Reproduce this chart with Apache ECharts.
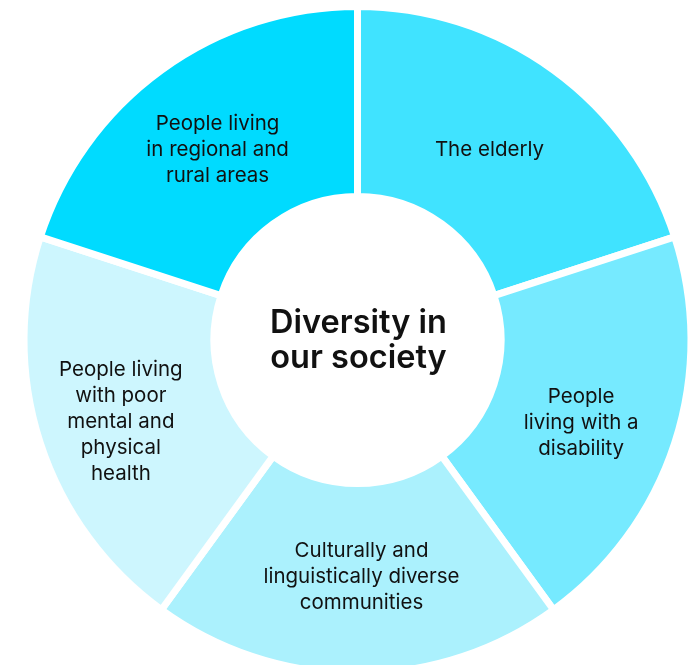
<!DOCTYPE html>
<html>
<head>
<meta charset="utf-8">
<style>
  html, body { margin: 0; padding: 0; background: #ffffff; }
  #chart { width: 698px; height: 665px; }
</style>
<script src="https://cdn.jsdelivr.net/npm/echarts@6/dist/echarts.min.js"></script>
</head>
<body>
<div id="chart"></div>
<script>
// Groups shown around the ring, clockwise from the top
const categories = [
  'The elderly',
  'People\nliving with a\ndisability',
  'Culturally and\nlinguistically diverse\ncommunities',
  'People living\nwith poor\nmental and\nphysical\nhealth',
  'People living\nin regional and\nrural areas'
];
// Every group takes an equal share of the ring
const shares = [1, 1, 1, 1, 1];
const colors = ['#40e3ff', '#76eaff', '#abf1fd', '#cdf6fe', '#00dbff'];
// Small nudges of each label from the segment's centroid
const labelOffsets = [[-10, 5], [-6, 8], [4, -5], [-7, 7], [2, 5]];
const centerTitle = 'Diversity in\nour society';

const chart = echarts.init(document.getElementById('chart'), null, { renderer: 'canvas' });

const fontFamily = 'Inter, "Noto Sans", sans-serif';

chart.setOption({
  animation: false,
  series: [{
    type: 'pie',
    center: [357.5, 340],
    radius: [143.5, 333.5],
    startAngle: 90,
    clockwise: true,
    silent: true,
    itemStyle: { borderColor: '#ffffff', borderWidth: 7 },
    label: {
      show: true,
      position: 'inside',
      color: '#111111',
      fontFamily: fontFamily,
      fontSize: 20.5,
      lineHeight: 26,
      align: 'center',
      formatter: p => p.name
    },
    labelLine: { show: false },
    emphasis: { disabled: true },
    data: categories.map((name, i) => ({
      name: name,
      value: shares[i],
      itemStyle: { color: colors[i] },
      label: { offset: labelOffsets[i] }
    }))
  }],
  graphic: [{
    type: 'text',
    x: 358.5,
    y: 341,
    style: {
      text: centerTitle,
      fontFamily: fontFamily,
      fontSize: 32.5,
      fontWeight: 600,
      lineHeight: 35,
      fill: '#111111',
      align: 'center',
      verticalAlign: 'middle'
    }
  }]
});
</script>
</body>
</html>
